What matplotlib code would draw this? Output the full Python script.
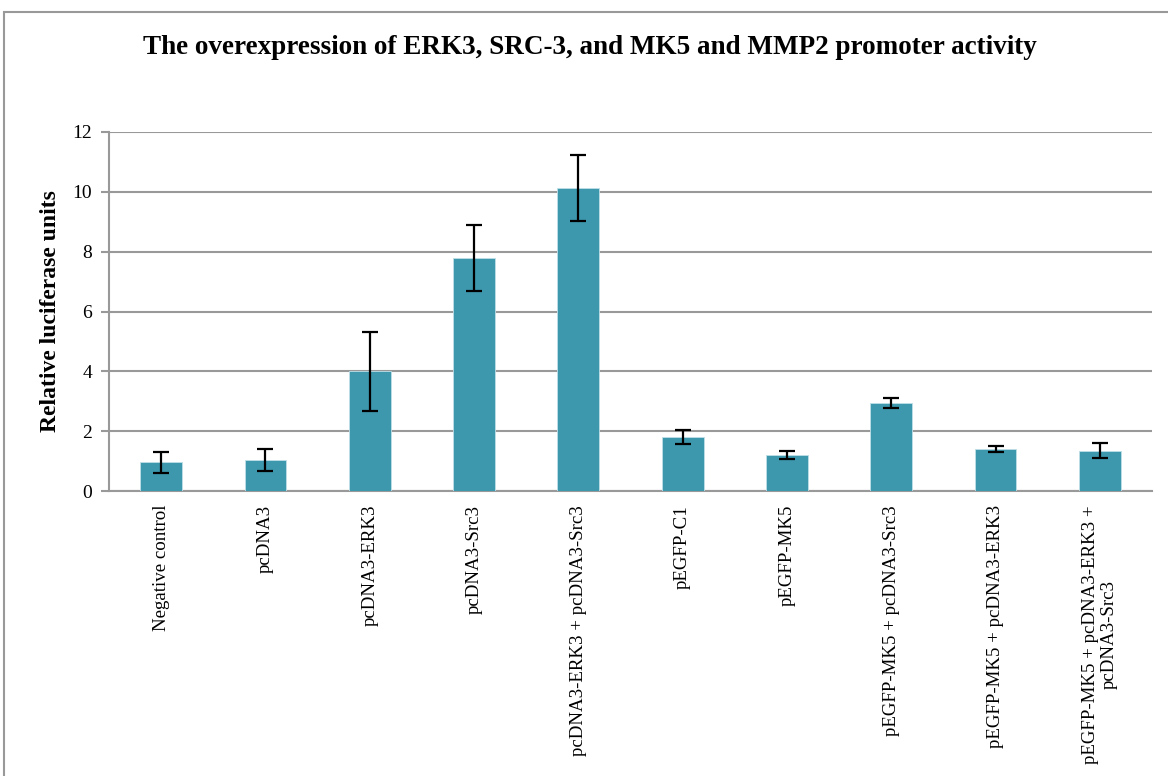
import matplotlib
matplotlib.use("Agg")
import matplotlib.pyplot as plt
from matplotlib.patches import Rectangle
import numpy as np

categories = ["Negative control", "pcDNA3", "pcDNA3-ERK3", "pcDNA3-Src3",
              "pcDNA3-ERK3 + pcDNA3-Src3", "pEGFP-C1", "pEGFP-MK5",
              "pEGFP-MK5 + pcDNA3-Src3", "pEGFP-MK5 + pcDNA3-ERK3",
              "pEGFP-MK5 + pcDNA3-ERK3 +\npcDNA3-Src3"]
values = [0.96, 1.03, 4.0, 7.8, 10.12, 1.8, 1.21, 2.95, 1.41, 1.35]
errors = [0.35, 0.36, 1.32, 1.1, 1.1, 0.23, 0.13, 0.16, 0.1, 0.24]
yticks = [0, 2, 4, 6, 8, 10, 12]

serif = ["Liberation Serif", "DejaVu Serif"]

fig = plt.figure(figsize=(11.68, 7.76), dpi=100)
ax = fig.add_axes([109/1168, 1-491/776, (1152-109)/1168, (491-132)/776])

x = np.arange(len(categories))
ax.bar(x, values, width=0.4, color="#3d97ad", edgecolor="#bfe0e8", linewidth=0.6, zorder=3)
ax.errorbar(x, values, yerr=errors, fmt="none", ecolor="black", elinewidth=1.6,
            capsize=6, capthick=1.6, zorder=4)

ax.set_xlim(-0.5, len(categories) - 0.5)
ax.set_ylim(0, 12)
ax.set_yticks(yticks)
ax.set_yticklabels([str(t) for t in yticks], fontfamily=serif, fontsize=14)
ax.yaxis.grid(True, color="#999999", linewidth=1.5, zorder=0)
ax.set_axisbelow(True)
for s in ["top", "right"]:
    ax.spines[s].set_visible(False)
for s in ["left", "bottom"]:
    ax.spines[s].set_color("#999999")
    ax.spines[s].set_linewidth(1.5)
ax.tick_params(axis="y", length=6, width=1.5, color="#999999", pad=6)
ax.tick_params(axis="x", length=0, pad=10)
ax.set_xticks(x)
ax.set_xticklabels(categories, rotation=90, fontfamily=serif, fontsize=13.6,
                   va="top", ha="center", linespacing=1.08)

ax.set_ylabel("Relative luciferase units", fontfamily=serif, fontsize=17,
              fontweight="bold", labelpad=8)

fig.text(0.505, 1-48/776, "The overexpression of ERK3, SRC-3, and MK5 and MMP2 promoter activity",
         ha="center", va="center", fontfamily=serif, fontsize=19.5, fontweight="bold")

fig.patches.append(Rectangle((4/1168, -0.1), 1.2, 1-12/776+0.1, transform=fig.transFigure,
                             fill=False, edgecolor="#999999", linewidth=1.5))

fig.savefig("out.png", dpi=100)
